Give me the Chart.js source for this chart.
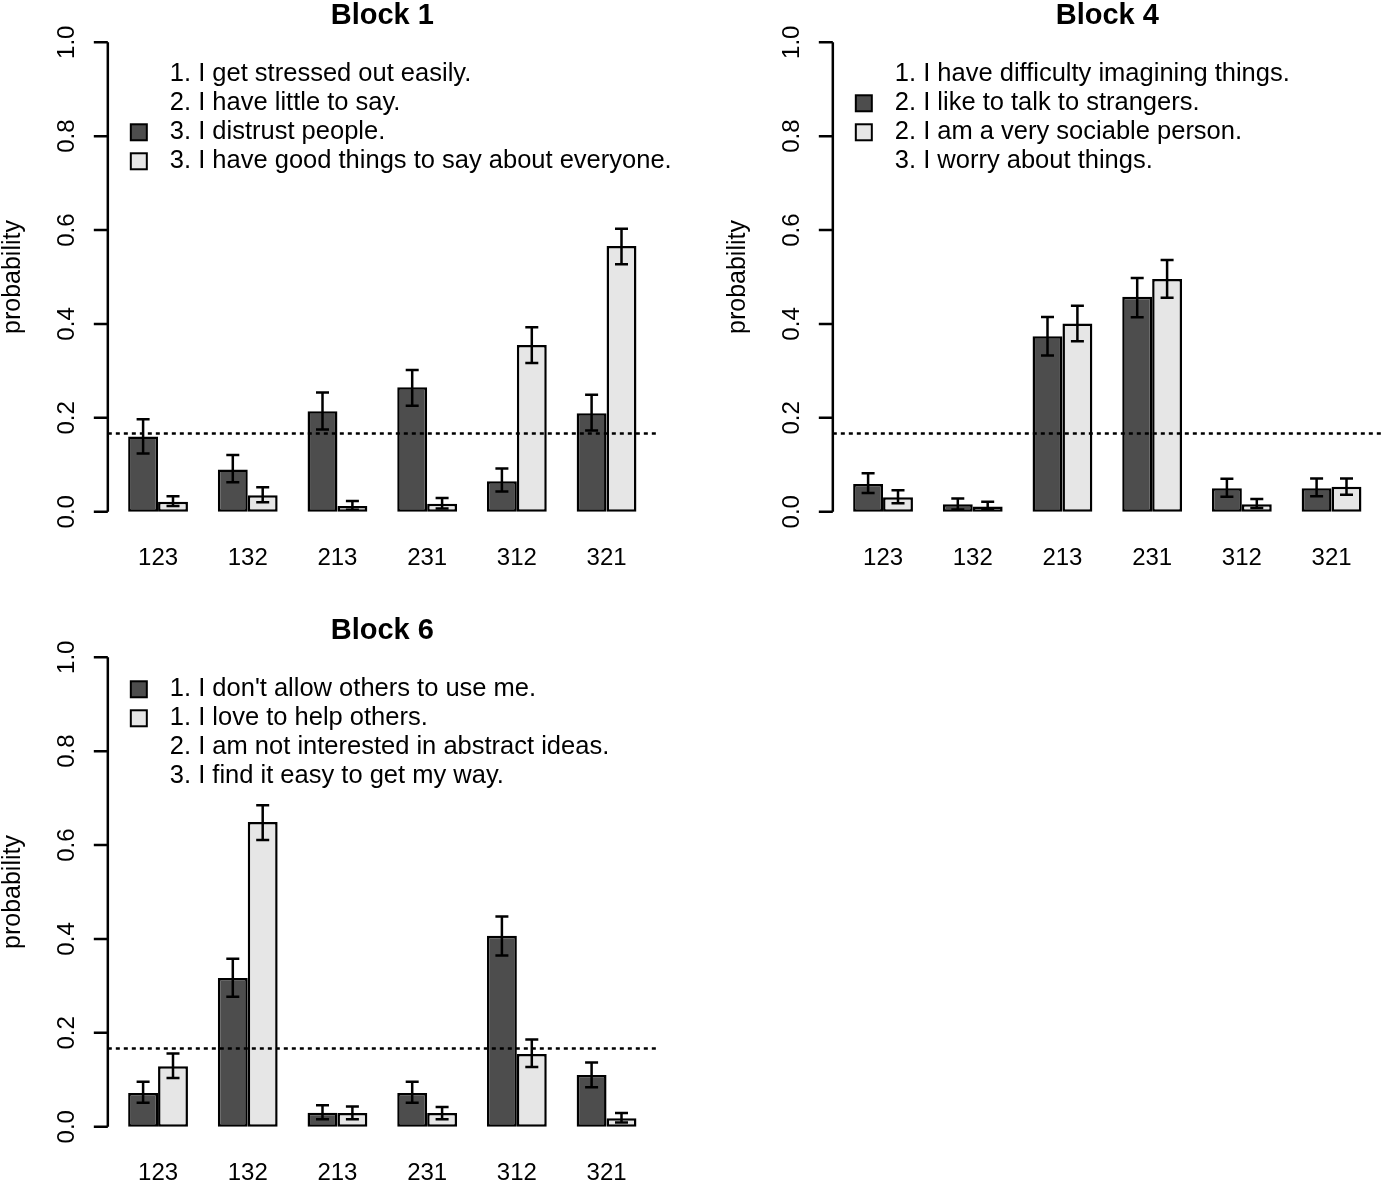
<!DOCTYPE html>
<html>
<head>
<meta charset="utf-8">
<script src="https://cdn.jsdelivr.net/npm/chart.js@4.4.1/dist/chart.umd.min.js"></script>
<style>
  html, body { margin: 0; padding: 0; background: #fff; }
  #page { position: relative; width: 1381px; height: 1182px; overflow: hidden; background: #fff; }
  canvas { position: absolute; }
</style>
</head>
<body>
<div id="page">
  <canvas id="block1" width="690" height="600" style="left:0;top:0;width:690px;height:600px"></canvas>
  <canvas id="block4" width="656" height="600" style="left:725px;top:0;width:656px;height:600px"></canvas>
  <canvas id="block6" width="690" height="567" style="left:0;top:615px;width:690px;height:567px"></canvas>
</div>
<script>
// orderings on the x axis
const categories = ['123', '132', '213', '231', '312', '321'];
const yTicks = [0, 0.2, 0.4, 0.6, 0.8, 1.0];
const yTickLabels = ['0.0', '0.2', '0.4', '0.6', '0.8', '1.0'];
const chance = 1 / 6;

// Block 1
const b1Dark = [0.160, 0.090, 0.214, 0.265, 0.065, 0.210];
const b1DarkLow = [0.124, 0.063, 0.175, 0.226, 0.043, 0.173];
const b1DarkHigh = [0.197, 0.121, 0.254, 0.302, 0.092, 0.249];
const b1Light = [0.021, 0.035, 0.012, 0.017, 0.355, 0.566];
const b1LightLow = [0.012, 0.020, 0.004, 0.007, 0.317, 0.527];
const b1LightHigh = [0.033, 0.052, 0.023, 0.029, 0.393, 0.603];
const b1Legend = ['1. I get stressed out easily.', '2. I have little to say.', '3. I distrust people.', '3. I have good things to say about everyone.'];
const b1Keys = ['', '', 'dark', 'light'];

// Block 4
const b4Dark = [0.059, 0.016, 0.374, 0.458, 0.050, 0.050];
const b4DarkLow = [0.040, 0.005, 0.333, 0.414, 0.032, 0.033];
const b4DarkHigh = [0.082, 0.028, 0.415, 0.498, 0.070, 0.071];
const b4Light = [0.031, 0.011, 0.401, 0.496, 0.016, 0.053];
const b4LightLow = [0.018, 0.004, 0.363, 0.456, 0.008, 0.036];
const b4LightHigh = [0.046, 0.021, 0.439, 0.536, 0.027, 0.071];
const b4Legend = ['1. I have difficulty imagining things.', '2. I like to talk to strangers.', '2. I am a very sociable person.', '3. I worry about things.'];
const b4Keys = ['', 'dark', 'light', ''];

// Block 6
const b6Dark = [0.072, 0.317, 0.030, 0.072, 0.407, 0.110];
const b6DarkLow = [0.051, 0.277, 0.016, 0.051, 0.365, 0.084];
const b6DarkHigh = [0.096, 0.358, 0.046, 0.096, 0.448, 0.137];
const b6Light = [0.129, 0.649, 0.029, 0.029, 0.155, 0.018];
const b6LightLow = [0.104, 0.611, 0.016, 0.016, 0.127, 0.009];
const b6LightHigh = [0.156, 0.685, 0.043, 0.042, 0.186, 0.029];
const b6Legend = ["1. I don't allow others to use me.", '1. I love to help others.', '2. I am not interested in abstract ideas.', '3. I find it easy to get my way.'];
const b6Keys = ['dark', 'light', '', ''];

const DARK = '#4d4d4d';
const LIGHT = '#e6e6e6';
const FONT = '"Liberation Sans", Arial, Helvetica, sans-serif';

// R-style axes, error bars, chance line, title and legend
const rStyle = {
  id: 'rStyle',
  afterDatasetsDraw(chart) {
    const ctx = chart.ctx, x = chart.scales.x, y = chart.scales.y;
    const unit = (x.getPixelForValue(1) - x.getPixelForValue(0)) / 3;
    const left = x.getPixelForValue(0) - 1.68 * unit;
    const right = x.getPixelForValue(5) + 1.68 * unit;
    ctx.save();
    ctx.strokeStyle = '#000';
    ctx.lineWidth = 2.5;
    chart.data.datasets.forEach((ds, di) => {
      chart.getDatasetMeta(di).data.forEach((bar, i) => {
        const yl = y.getPixelForValue(ds.low[i]);
        const yh = y.getPixelForValue(ds.high[i]);
        ctx.beginPath();
        ctx.moveTo(bar.x, yl); ctx.lineTo(bar.x, yh);
        ctx.moveTo(bar.x - 6.5, yl); ctx.lineTo(bar.x + 6.5, yl);
        ctx.moveTo(bar.x - 6.5, yh); ctx.lineTo(bar.x + 6.5, yh);
        ctx.stroke();
      });
    });
    // chance level
    const yc = y.getPixelForValue(chance);
    ctx.setLineDash([4, 4]);
    ctx.beginPath();
    ctx.moveTo(left, yc); ctx.lineTo(right, yc);
    ctx.stroke();
    ctx.restore();
  },
  afterDraw(chart, args, opts) {
    const ctx = chart.ctx, x = chart.scales.x, y = chart.scales.y;
    const unit = (x.getPixelForValue(1) - x.getPixelForValue(0)) / 3;
    const left = x.getPixelForValue(0) - 1.68 * unit;
    const right = x.getPixelForValue(5) + 1.68 * unit;
    const y0 = y.getPixelForValue(0), y1 = y.getPixelForValue(1);
    ctx.save();
    ctx.strokeStyle = '#000';
    ctx.fillStyle = '#000';
    ctx.lineWidth = 2.5;

    // y axis
    ctx.beginPath();
    ctx.moveTo(left, y0); ctx.lineTo(left, y1);
    yTicks.forEach(t => {
      const py = y.getPixelForValue(t);
      ctx.moveTo(left - 14, py); ctx.lineTo(left, py);
    });
    ctx.stroke();

    ctx.font = '24px ' + FONT;
    ctx.textAlign = 'center';
    ctx.textBaseline = 'middle';
    yTicks.forEach((t, i) => {
      ctx.save();
      ctx.translate(left - 40, y.getPixelForValue(t));
      ctx.rotate(-Math.PI / 2);
      ctx.fillText(yTickLabels[i], 0, 0);
      ctx.restore();
    });
    ctx.save();
    ctx.font = '25px ' + FONT;
    ctx.translate(left - 95, (y0 + y1) / 2);
    ctx.rotate(-Math.PI / 2);
    ctx.fillText('probability', 0, 0);
    ctx.restore();

    // category labels
    categories.forEach((c, i) => {
      ctx.fillText(c, x.getPixelForValue(i), y0 + 47);
    });

    // title
    ctx.font = 'bold 29px ' + FONT;
    ctx.fillText(opts.title, (left + right) / 2, 16);

    // legend
    ctx.font = '25.5px ' + FONT;
    ctx.textAlign = 'left';
    opts.legend.forEach((txt, i) => {
      const ly = y1 + 32 + i * 29;
      ctx.fillText(txt, left + 62, ly);
      const key = opts.keys[i];
      if (key) {
        ctx.fillStyle = key === 'dark' ? DARK : LIGHT;
        ctx.fillRect(left + 23, ly - 8, 16, 16);
        ctx.lineWidth = 2;
        ctx.strokeRect(left + 23, ly - 8, 16, 16);
        ctx.fillStyle = '#000';
      }
    });
    ctx.restore();
  }
};

function makeBlock(id, title, dark, darkLow, darkHigh, light, lightLow, lightHigh, legend, keys) {
  const canvas = document.getElementById(id);
  const W = canvas.width, H = canvas.height;
  const padLeft = 113.2;
  const plotW = 538.2;
  new Chart(canvas, {
    type: 'bar',
    data: {
      labels: categories,
      datasets: [
        { data: dark, low: darkLow, high: darkHigh, backgroundColor: DARK },
        { data: light, low: lightLow, high: lightHigh, backgroundColor: LIGHT }
      ]
    },
    options: {
      responsive: false,
      animation: false,
      events: [],
      layout: { padding: { left: padLeft, right: W - padLeft - plotW, top: 23.5, bottom: H - 530.5 } },
      datasets: {
        bar: {
          categoryPercentage: 2 / 3,
          barPercentage: 1,
          borderColor: '#000',
          borderWidth: 2.5,
          borderSkipped: false
        }
      },
      scales: {
        x: { display: false },
        y: { display: false, min: -0.04, max: 1.04 }
      },
      plugins: {
        legend: { display: false },
        tooltip: { enabled: false },
        rStyle: { title: title, legend: legend, keys: keys }
      }
    },
    plugins: [rStyle]
  });
}

makeBlock('block1', 'Block 1', b1Dark, b1DarkLow, b1DarkHigh, b1Light, b1LightLow, b1LightHigh, b1Legend, b1Keys);
makeBlock('block4', 'Block 4', b4Dark, b4DarkLow, b4DarkHigh, b4Light, b4LightLow, b4LightHigh, b4Legend, b4Keys);
makeBlock('block6', 'Block 6', b6Dark, b6DarkLow, b6DarkHigh, b6Light, b6LightLow, b6LightHigh, b6Legend, b6Keys);
</script>
</body>
</html>
